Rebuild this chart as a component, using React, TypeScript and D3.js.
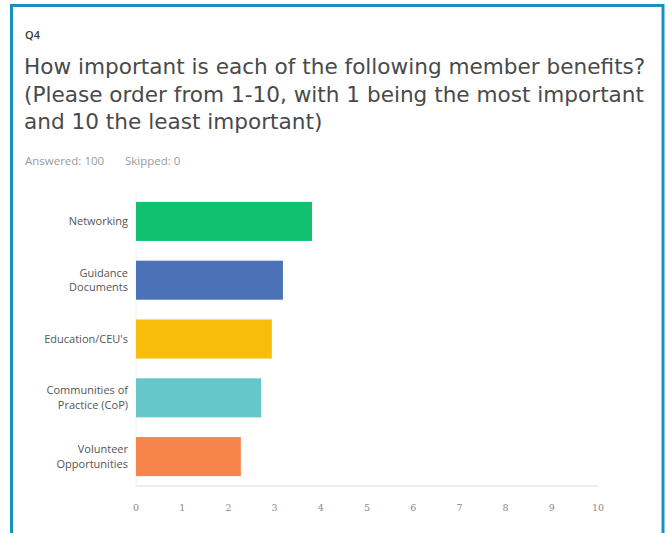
import React from "react";
import * as d3 from "d3";

const categories: string[][] = [
  ["Networking"],
  ["Guidance", "Documents"],
  ["Education/CEU's"],
  ["Communities of", "Practice (CoP)"],
  ["Volunteer", "Opportunities"],
];
const scores: number[] = [3.81, 3.18, 2.94, 2.71, 2.27];
const barColors: string[] = ["#10c170", "#4b72b6", "#f7bd0a", "#66c6c9", "#f7854b"];
const tickValues: number[] = [0, 1, 2, 3, 4, 5, 6, 7, 8, 9, 10];
const titleLines: string[] = [
  "How important is each of the following member benefits?",
  "(Please order from 1-10, with 1 being the most important",
  "and 10 the least important)",
];

const W = 669;
const H = 533;

export default function App() {
  const keys = categories.map((c) => c.join(" "));
  const x = d3.scaleLinear().domain([0, 10]).range([136, 598]);
  const y = d3
    .scaleBand<string>()
    .domain(keys)
    .range([192, 486])
    .paddingInner(0.336)
    .paddingOuter(0.168);
  const sans = "'Open Sans', 'Noto Sans', sans-serif";
  const titleFont = "'DejaVu Sans', 'Open Sans', sans-serif";

  return (
    <div style={{ position: "absolute", left: 0, top: 0 }}>
      <svg width={W} height={H} style={{ display: "block", background: "#fff" }}>
        {/* card border */}
        <path
          d={`M11.5,${H} L11.5,5.5 L663,5.5 L663,${H}`}
          fill="none"
          stroke="#1b8ec2"
          strokeWidth={3}
        />
        <text x={25} y={39} fontFamily={sans} fontSize={11} fontWeight={600} fill="#3a3a3a">
          Q4
        </text>
        {titleLines.map((t, i) => (
          <text
            key={i}
            x={24}
            y={74 + i * 27.5}
            fontFamily={titleFont}
            fontSize={21.6}
            fill="#4a4a4a"
          >
            {t}
          </text>
        ))}
        <text x={25} y={165} fontFamily={sans} fontSize={11.5} fill="#9a9a9a">
          Answered: 100
        </text>
        <text x={125} y={165} fontFamily={sans} fontSize={11.5} fill="#9a9a9a">
          Skipped: 0
        </text>

        {/* faint left baseline */}
        <line x1={x(0)} x2={x(0)} y1={192} y2={486} stroke="#eeeeee" strokeWidth={1} />

        {categories.map((c, i) => {
          const key = keys[i];
          const yc = (y(key) as number) + y.bandwidth() / 2;
          const lh = 14.5;
          return (
            <g key={key}>
              <rect
                x={x(0)}
                y={y(key)}
                width={x(scores[i]) - x(0)}
                height={y.bandwidth()}
                fill={barColors[i]}
              />
              <text
                x={128}
                y={yc - ((c.length - 1) / 2) * lh}
                textAnchor="end"
                fontFamily={sans}
                fontSize={11}
                fill="#555"
              >
                {c.map((line, j) => (
                  <tspan key={j} x={128} dy={j === 0 ? "0.35em" : lh}>
                    {line}
                  </tspan>
                ))}
              </text>
            </g>
          );
        })}

        {/* x axis */}
        <line x1={x(0)} x2={x(10)} y1={486} y2={486} stroke="#dddddd" strokeWidth={1} />
        {tickValues.map((v) => (
          <text
            key={v}
            x={x(v)}
            y={511}
            textAnchor="middle"
            fontFamily="'DejaVu Serif', 'Liberation Serif', serif"
            fontSize={9.5}
            fill="#8a8a8a"
          >
            {v}
          </text>
        ))}
      </svg>
    </div>
  );
}
